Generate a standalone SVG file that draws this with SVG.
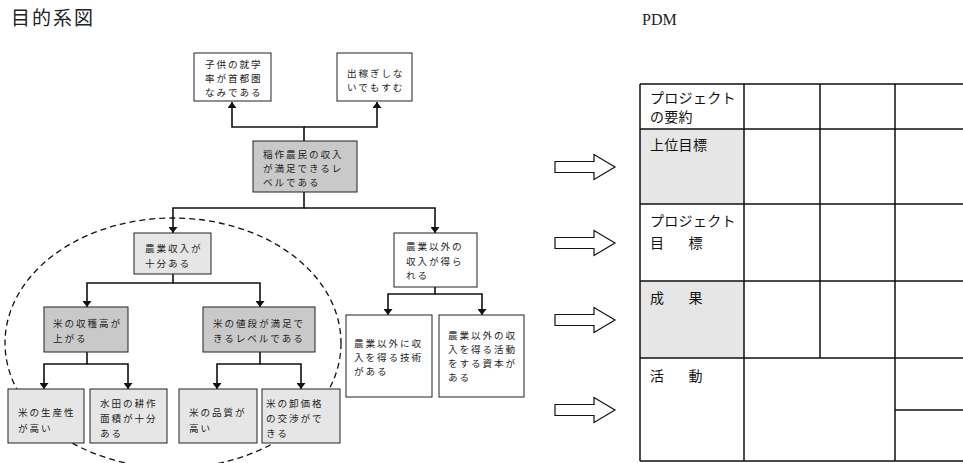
<svg xmlns="http://www.w3.org/2000/svg" width="963" height="463" viewBox="0 0 963 463">
<defs>
<style>
.t{font-family:"Noto Sans CJK JP","Noto Sans CJK SC",sans-serif;font-size:9.6px;letter-spacing:1.9px;fill:#222}
.h{font-family:"Noto Sans CJK JP","Noto Sans CJK SC",sans-serif;font-size:14px;letter-spacing:0.3px;fill:#111}
.box{stroke:#222;stroke-width:1}
.w{fill:#fff}
.l{fill:#e6e6e6}
.d{fill:#c9c9c9}
.c{fill:none;stroke:#111;stroke-width:1.6}
.grid{stroke:#111;stroke-width:1.5;fill:none}
.blk{fill:#fff;stroke:#111;stroke-width:1.2}
</style>
<marker id="ah" viewBox="0 0 10 10" refX="10" refY="5" markerWidth="6" markerHeight="9" markerUnits="userSpaceOnUse" orient="auto" preserveAspectRatio="none">
<path d="M0,0 L10,5 L0,10 z" fill="#111"/>
</marker>
</defs>
<rect width="963" height="463" fill="#fff"/>
<text x="11" y="25" style="font-family:'Noto Sans CJK JP',sans-serif;font-size:19px;letter-spacing:2px;fill:#222">目的系図</text>
<text x="642" y="25" style="font-family:'Liberation Serif',serif;font-size:16px;fill:#222">PDM</text>

<ellipse cx="173" cy="343" rx="168" ry="125" fill="none" stroke="#111" stroke-width="1.3" stroke-dasharray="6,4"/>

<g id="connectors">
<path class="c" d="M304,141 V127 H232 V102" marker-end="url(#ah)"/>
<path class="c" d="M304,127 H377 V102" marker-end="url(#ah)"/>
<path class="c" d="M304,192 V208 H173 V233" marker-end="url(#ah)"/>
<path class="c" d="M304,208 H435 V233" marker-end="url(#ah)"/>
<path class="c" d="M173,274 V283 H87 V307" marker-end="url(#ah)"/>
<path class="c" d="M173,283 H260 V307" marker-end="url(#ah)"/>
<path class="c" d="M87,352 V364 H44 V389" marker-end="url(#ah)"/>
<path class="c" d="M87,364 H128 V389" marker-end="url(#ah)"/>
<path class="c" d="M260,352 V364 H217 V389" marker-end="url(#ah)"/>
<path class="c" d="M260,364 H301 V389" marker-end="url(#ah)"/>
<path class="c" d="M435,287 V294 H388 V315" marker-end="url(#ah)"/>
<path class="c" d="M435,294 H482 V315" marker-end="url(#ah)"/>
</g>

<g id="nodeA"><rect class="box w" x="194" y="53" width="77" height="48"/>
<text class="t" x="205" y="68">子供の就学</text><text class="t" x="205" y="82">率が首都圏</text><text class="t" x="205" y="96">なみである</text></g>
<g id="nodeB"><rect class="box w" x="337" y="53" width="75" height="48"/>
<text class="t" x="347" y="77">出稼ぎしな</text><text class="t" x="347" y="91">いでもすむ</text></g>
<g id="nodeC"><rect class="box d" x="253" y="141" width="104" height="51"/>
<text class="t" x="263" y="158">稲作農民の収入</text><text class="t" x="263" y="172">が満足できるレ</text><text class="t" x="263" y="186">ベルである</text></g>
<g id="nodeD"><rect class="box l" x="134" y="233" width="77" height="41"/>
<text class="t" x="145" y="252">農業収入が</text><text class="t" x="145" y="267">十分ある</text></g>
<g id="nodeE"><rect class="box w" x="394" y="233" width="83" height="54"/>
<text class="t" x="406" y="250">農業以外の</text><text class="t" x="406" y="265">収入が得ら</text><text class="t" x="406" y="279">れる</text></g>
<g id="nodeF"><rect class="box d" x="44" y="307" width="84" height="45"/>
<text class="t" x="53" y="327">米の収穫高が</text><text class="t" x="53" y="342">上がる</text></g>
<g id="nodeG"><rect class="box d" x="203" y="307" width="112" height="45"/>
<text class="t" x="213" y="327">米の値段が満足で</text><text class="t" x="213" y="342">きるレベルである</text></g>
<g id="nodeH"><rect class="box l" x="8" y="389" width="76" height="54"/>
<text class="t" x="18" y="416">米の生産性</text><text class="t" x="18" y="432">が高い</text></g>
<g id="nodeI"><rect class="box l" x="90" y="389" width="77" height="54"/>
<text class="t" x="100" y="407">水田の耕作</text><text class="t" x="100" y="422">面積が十分</text><text class="t" x="100" y="437">ある</text></g>
<g id="nodeJ"><rect class="box l" x="179" y="389" width="78" height="54"/>
<text class="t" x="189" y="416">米の品質が</text><text class="t" x="189" y="432">高い</text></g>
<g id="nodeK"><rect class="box l" x="262" y="389" width="78" height="54"/>
<text class="t" x="266" y="407">米の卸価格</text><text class="t" x="266" y="422">の交渉がで</text><text class="t" x="266" y="437">きる</text></g>
<g id="nodeL"><rect class="box w" x="346" y="315" width="86" height="82"/>
<text class="t" x="354" y="347">農業以外に収</text><text class="t" x="354" y="361">入を得る技術</text><text class="t" x="354" y="375">がある</text></g>
<g id="nodeM"><rect class="box w" x="439" y="315" width="85" height="82"/>
<text class="t" x="448" y="339">農業以外の収</text><text class="t" x="448" y="353">入を得る活動</text><text class="t" x="448" y="367">をする資本が</text><text class="t" x="448" y="381">ある</text></g>

<g id="block-arrows">
<polygon class="blk" points="555,161.5 594,161.5 594,154.5 615,167 594,179.5 594,172.5 555,172.5"/>
<polygon class="blk" points="555,237.5 594,237.5 594,230.5 615,243 594,255.5 594,248.5 555,248.5"/>
<polygon class="blk" points="555,314.5 594,314.5 594,307.5 615,320 594,332.5 594,325.5 555,325.5"/>
<polygon class="blk" points="555,404.5 594,404.5 594,397.5 615,410 594,422.5 594,415.5 555,415.5"/>
</g>

<g id="pdm">
<rect x="640" y="129" width="104" height="75" fill="#e6e6e6"/>
<rect x="640" y="281" width="104" height="77" fill="#e6e6e6"/>
<path class="grid" d="M640,84 H963 M640,129 H963 M640,204 H963 M640,281 H963 M640,358 H963 M640,461 H963 M895,410 H963 M640,84 V461 M744,84 V461 M820,84 V358 M895,84 V461"/>
<text class="h" x="650" y="103">プロジェクト</text>
<text class="h" x="650" y="122">の要約</text>
<text class="h" x="650" y="150">上位目標</text>
<text class="h" x="650" y="226">プロジェクト</text>
<text class="h" x="650" y="248">目　<tspan dx="10">標</tspan></text>
<text class="h" x="650" y="303">成　<tspan dx="10">果</tspan></text>
<text class="h" x="650" y="381">活　<tspan dx="10">動</tspan></text>
</g>
</svg>
